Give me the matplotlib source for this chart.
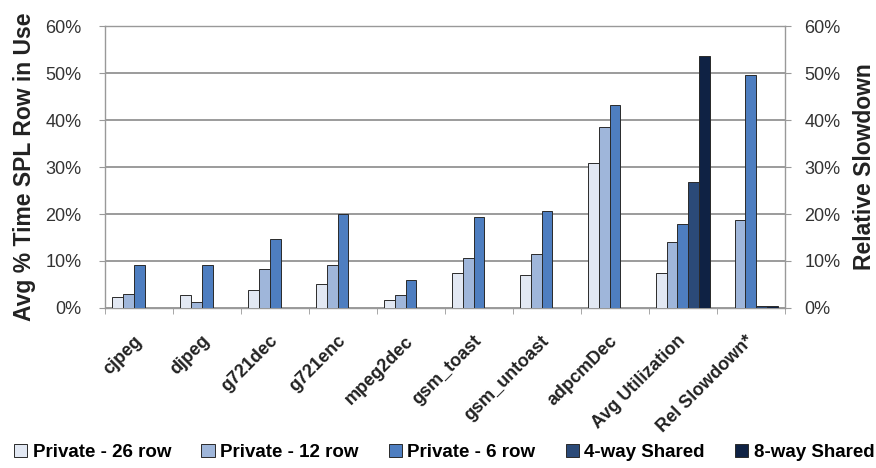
import numpy as np
import matplotlib.pyplot as plt
from matplotlib.ticker import PercentFormatter, MultipleLocator

plt.rcParams['font.family'] = ['Liberation Sans', 'DejaVu Sans']

categories = ["cjpeg", "djpeg", "g721dec", "g721enc", "mpeg2dec", "gsm_toast",
              "gsm_untoast", "adpcmDec", "Avg Utilization", "Rel Slowdown*"]

series_names = ["Private - 26 row", "Private - 12 row", "Private - 6 row",
                "4-way Shared", "8-way Shared"]

nan = np.nan
private_26 = [2.3, 2.8, 3.8, 5.2, 1.7, 7.4, 7.0, 30.9, 7.5, nan]
private_12 = [3.0, 1.3, 8.4, 9.1, 2.8, 10.6, 11.5, 38.6, 14.1, 18.7]
private_6 = [9.1, 9.1, 14.6, 20.0, 6.0, 19.4, 20.7, 43.2, 17.8, 49.6]
shared_4 = [nan, nan, nan, nan, nan, nan, nan, nan, 26.9, 0.5]
shared_8 = [nan, nan, nan, nan, nan, nan, nan, nan, 53.6, 0.5]

colors = ["#e2e8f3", "#9fb6da", "#4e7ec0", "#2b4a78", "#0f2244"]

fig = plt.figure(figsize=(8.76, 4.68), dpi=100)
ax = fig.add_axes((0.12, 0.342, 0.776, 0.602))

x = np.arange(len(categories)) + 0.5
width = 0.16
all_series = [private_26, private_12, private_6, shared_4, shared_8]
for k, (vals, name, col) in enumerate(zip(all_series, series_names, colors)):
    ax.bar(x + (k - 2) * width, vals, width, color=col, edgecolor="#2a2a2a",
           linewidth=0.7, label=name, zorder=3)

ax.set_xlim(0, len(categories))
ax.set_ylim(0, 60)
ax.yaxis.set_major_locator(MultipleLocator(10))
ax.yaxis.set_major_formatter(PercentFormatter(decimals=0))
ax.grid(axis="y", color="#808080", linewidth=1.1, zorder=0)

for s in ax.spines.values():
    s.set_color("#999999")
    s.set_linewidth(1.0)

ax.set_xticks(x)
ax.set_xticklabels(categories, rotation=45, ha="right", va="center",
                   rotation_mode="anchor", fontsize=13, fontweight="bold",
                   color="#222222")
ax.set_xticks(np.arange(len(categories) + 1), minor=True)
ax.tick_params(axis="x", which="major", length=0, pad=22)
ax.tick_params(axis="x", which="minor", length=4, color="#999999")
ax.tick_params(axis="y", length=4, color="#999999", labelsize=13,
               labelcolor="#333333", pad=13)

ax.set_ylabel("Avg % Time SPL Row in Use", fontsize=16.5, fontweight="bold",
              color="#222222", labelpad=7)

ax2 = ax.twinx()
ax2.set_ylim(0, 60)
ax2.yaxis.set_major_locator(MultipleLocator(10))
ax2.yaxis.set_major_formatter(PercentFormatter(decimals=0))
ax2.tick_params(axis="y", length=4, color="#999999", labelsize=13,
                labelcolor="#333333", pad=10)
for s in ax2.spines.values():
    s.set_visible(False)
ax2.set_ylabel("Relative Slowdown", fontsize=16.5, fontweight="bold",
               color="#222222", labelpad=9)

handles, labels = ax.get_legend_handles_labels()
fig.legend(handles, labels, loc="center", bbox_to_anchor=(0.507, 0.034), ncol=5,
           frameon=False, prop={"weight": "bold", "size": 13.5},
           handlelength=0.7, handleheight=0.7, handletextpad=0.3, columnspacing=1.6)

plt.savefig("out.png", dpi=100)
